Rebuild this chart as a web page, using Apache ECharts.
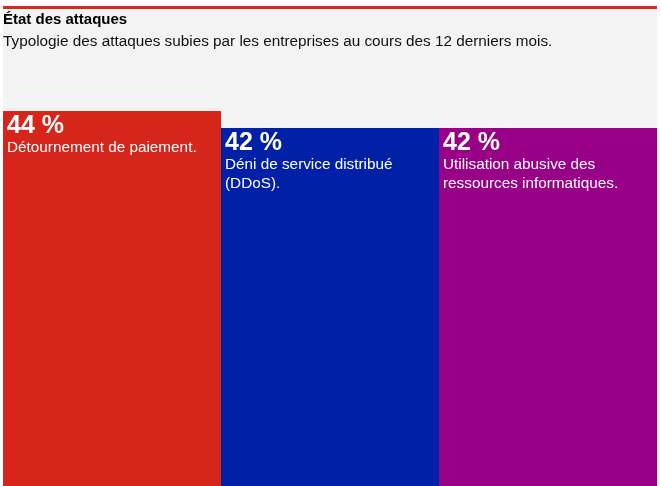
<!DOCTYPE html>
<html><head><meta charset="utf-8">
<script src="https://cdn.jsdelivr.net/npm/echarts@6/dist/echarts.min.js"></script>
<style>html,body{margin:0;padding:0;background:#fff}#c{width:661px;height:486px}</style>
</head><body><div id="c"></div>
<script>
const categories = ["Détournement de paiement.", "Déni de service distribué\n(DDoS).", "Utilisation abusive des\nressources informatiques."];
const values = [44, 42, 42];
const colors = ["#d6251b", "#0020a8", "#990088"];
const titleText = "État des attaques";
const subtitleText = "Typologie des attaques subies par les entreprises au cours des 12 derniers mois.";
const FF = 'Liberation Sans, Arial, sans-serif';

const chart = echarts.init(document.getElementById('c'));
chart.setOption({
  animation: false,
  graphic: [
    {type:'rect', shape:{x:3,y:9,width:654,height:477}, style:{fill:'#f3f3f3'}, z:-10},
    {type:'rect', shape:{x:3,y:6,width:654,height:3}, style:{fill:'#d52b1e'}, z:-10}
  ],
  title: {
    text: titleText, subtext: subtitleText, left: 3, top: 12, padding: 0, itemGap: 7,
    textStyle: {fontFamily:FF, fontSize:15, fontWeight:'bold', color:'#000'},
    subtextStyle: {fontFamily:FF, fontSize:15.3, color:'#111'}
  },
  grid: {left:3, right:4, top:111, bottom:0},
  xAxis: {type:'category', data:categories, show:false, boundaryGap:true},
  yAxis: {type:'value', min:0, max:44, show:false},
  series: [{
    type:'bar', barWidth:'100%', barCategoryGap:0,
    data: values.map((v,i)=>({value:v, itemStyle:{color:colors[i]}})),
    label: {
      show:true, position:'insideTopLeft', distance:4, offset:[0,0],
      fontFamily:FF,
      formatter: p => '{v|' + p.value + ' %}\n{d|' + p.name.split('\n').join('}\n{d|') + '}',
      rich: {
        v: {fontSize:25, fontWeight:'bold', color:'#fff', lineHeight:23, fontFamily:FF},
        d: {fontSize:15.3, color:'#fff', lineHeight:19, fontFamily:FF}
      }
    }
  }]
});
</script></body></html>
